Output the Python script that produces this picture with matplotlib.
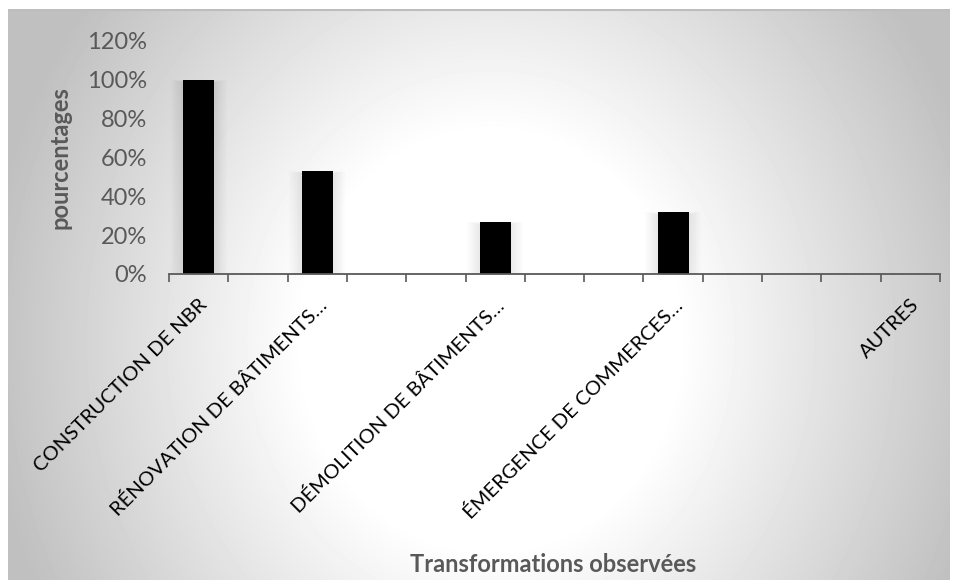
import numpy as np
import matplotlib
matplotlib.use('Agg')
import matplotlib.pyplot as plt
from matplotlib.ticker import FixedLocator, PercentFormatter

# transformations observées, one slot per category (blank slots have no name)
categories = ['CONSTRUCTION DE NBR', '', 'RÉNOVATION DE BÂTIMENTS…', '', '',
              'DÉMOLITION DE BÂTIMENTS…', '', '', 'ÉMERGENCE DE COMMERCES…',
              '', '', '', 'AUTRES']
percentages = [100, 0, 53, 0, 0, 27, 0, 0, 32, 0, 0, 0, 0]
y_ticks = [0, 20, 40, 60, 80, 100, 120]

W, H = 954, 580
plt.rcParams['font.family'] = ['Lato', 'DejaVu Sans']

fig = plt.figure(figsize=(W / 100, H / 100), dpi=100)
fig.patch.set_facecolor('white')

# radial grey-to-white backdrop of the chart area
bx0, by0, bx1, by1 = 8, 9, 950, 580
bg = fig.add_axes([bx0 / W, 1 - by1 / H, (bx1 - bx0) / W, (by1 - by0) / H])
xx, yy = np.meshgrid(np.arange(bx0, bx1), np.arange(by0, by1))
d = np.sqrt(((xx - 490) / 470.0) ** 2 + ((yy - 340) / 520.0) ** 2)
shade = 1 - 0.22 * np.clip((d - 0.4) / 0.6, 0, None)
shade = np.clip(shade, 0.75, 1)
bg.imshow(shade, cmap='gray', vmin=0, vmax=1, aspect='auto',
          extent=(bx0, bx1, by1, by0), interpolation='bilinear')
bg.axhline(by0 + 0.5, color='#bdbdbd', lw=1.5)
bg.set_xlim(bx0, bx1)
bg.set_ylim(by1, by0)
bg.axis('off')

ax = fig.add_axes([169 / W, 1 - 274 / H, (940 - 169) / W, (274 - 40.7) / H])
ax.patch.set_alpha(0)
x = np.arange(len(categories))
vals = np.array(percentages, dtype=float)

# soft shadow round the non-empty bars
shown = vals > 0
for k in range(1, 8):
    ax.bar(x[shown], vals[shown] - 1.5 + k * 0.2, width=0.52 + k * 0.06,
           color='black', alpha=0.012, linewidth=0)
ax.bar(x, vals, width=0.52, color='black', linewidth=0, zorder=3)

ax.set_xlim(-0.5, len(categories) - 0.5)
ax.set_ylim(0, 120)
ax.set_yticks(y_ticks)
ax.yaxis.set_major_formatter(PercentFormatter(decimals=0))
ax.tick_params(axis='y', length=0, pad=16, labelsize=17, labelcolor='#595959')

ax.set_xticks(x)
ax.set_xticklabels(categories, rotation=45, ha='right', va='top',
                   rotation_mode='anchor', fontsize=14.5, color='black')
ax.xaxis.set_minor_locator(FixedLocator(np.arange(-0.5, len(categories), 1)))
ax.tick_params(axis='x', which='major', length=0, pad=16)
ax.tick_params(axis='x', which='minor', length=6, width=1.2, color='#595959',
               direction='out')

for side in ['top', 'right', 'left']:
    ax.spines[side].set_visible(False)
ax.spines['bottom'].set_color('#595959')
ax.spines['bottom'].set_linewidth(1.3)
ax.spines['bottom'].set_zorder(4)

fig.text(60 / W, 1 - 158 / H, 'pourcentages', rotation=90, ha='center',
         va='center', fontsize=17, fontweight='bold', color='#595959')
fig.text(553 / W, 1 - 565 / H, 'Transformations observées', ha='center',
         va='center', fontsize=17, fontweight='bold', color='#595959')

fig.savefig('out.png', dpi=100)
